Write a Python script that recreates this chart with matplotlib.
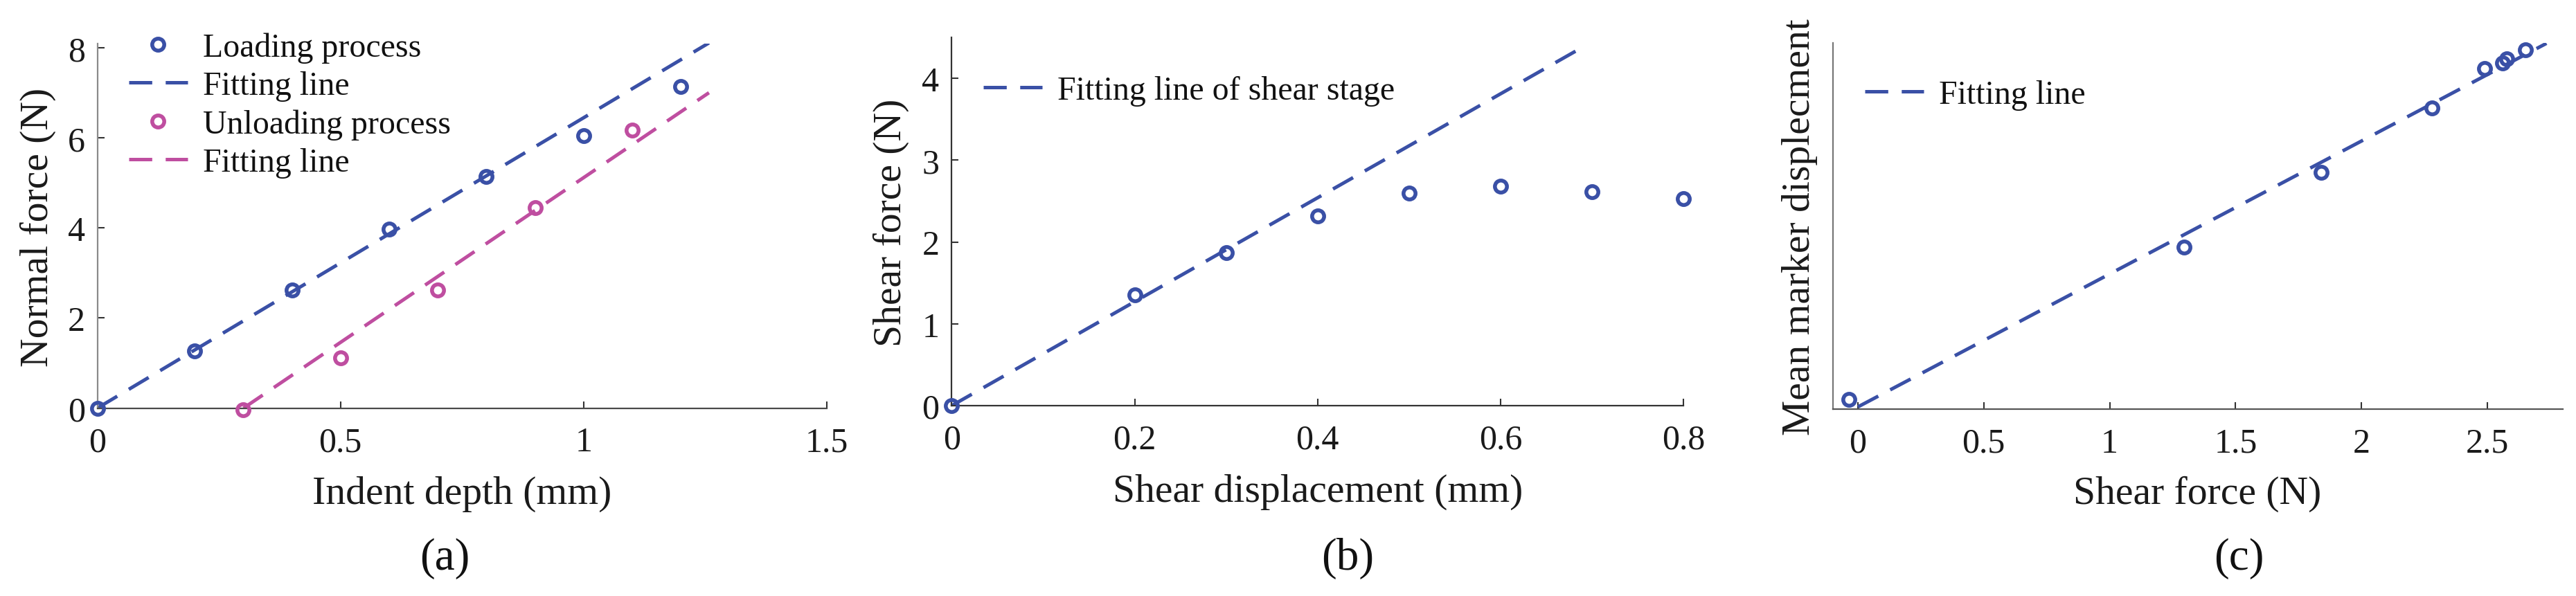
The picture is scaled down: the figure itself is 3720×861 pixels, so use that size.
import matplotlib
matplotlib.use('Agg')
import matplotlib.pyplot as plt
import numpy as np

plt.rcParams['font.family'] = ['Liberation Serif', 'DejaVu Serif']
plt.rcParams['lines.scale_dashes'] = False

# ---------------- data ----------------
# (a) normal indentation
depth_load = [0.0, 0.2, 0.4, 0.6, 0.8, 1.0, 1.2]
force_load = [0.0, 1.27, 2.62, 3.97, 5.14, 6.06, 7.15]
depth_unload = [0.3, 0.5, 0.7, 0.9, 1.1]
force_unload = [-0.04, 1.12, 2.62, 4.46, 6.18]
fit_load_coef = [6.45, 0.0]          # slope, intercept
fit_load_range = [0.0, 1.258]
fit_unload_coef = [7.32, -2.201]
fit_unload_range = [0.3007, 1.258]

# (b) shear stage
shear_disp = [0.0, 0.2, 0.3, 0.4, 0.5, 0.6, 0.7, 0.8]
shear_force = [0.0, 1.35, 1.87, 2.32, 2.60, 2.68, 2.61, 2.53]
fit_shear_coef = [6.35, 0.0]
fit_shear_range = [0.0, 0.689]

# (c) marker displacement vs shear force
c_force = [-0.037, 1.296, 1.840, 2.279, 2.489, 2.560, 2.577, 2.651]
c_disp = [0.026, 0.442, 0.647, 0.823, 0.930, 0.945, 0.957, 0.981]
fit_c_coef = [0.363, 0.006]
fit_c_range = [0.0, 2.735]

a_xticks = [0, 0.5, 1, 1.5]
a_yticks = [0, 2, 4, 6, 8]
b_xticks = [0, 0.2, 0.4, 0.6, 0.8]
b_yticks = [0, 1, 2, 3, 4]
c_xticks = [0, 0.5, 1, 1.5, 2, 2.5]

BLUE = '#3a50a6'
PINK = '#bf4ea0'

W, H = 3720, 862
fig = plt.figure(figsize=(W / 100, H / 100), dpi=100)

def px_rect(left, right, bottom, top):
    return [left / W, 1 - bottom / H, (right - left) / W, (bottom - top) / H]

ax_a = fig.add_axes(px_rect(140.7, 1193.7, 590.5, 63.9))
ax_b = fig.add_axes(px_rect(1374.4, 2431.0, 587.0, 55.0))
ax_c = fig.add_axes(px_rect(2646.6, 3701.0, 592.0, 63.0))

TICK_FS = 36
LABEL_FS = 41.5
LEG_FS = 34.5
CAP_FS = 47

mk = dict(marker='o', linestyle='none', markersize=12.5, markeredgewidth=4,
          markerfacecolor='none', clip_on=False, zorder=3)
ln = dict(linewidth=3.6, dashes=(24, 14), zorder=2)

def fitline(ax, coef, rng, color, label=None):
    xs = np.array(rng)
    return ax.plot(xs, np.polyval(coef, xs), color=color, label=label, **ln)[0]

# ---- (a)
h1 = ax_a.plot(depth_load, force_load, color=BLUE, markeredgecolor=BLUE, label='Loading process', **mk)[0]
h2 = fitline(ax_a, fit_load_coef, fit_load_range, BLUE, 'Fitting line')
h3 = ax_a.plot(depth_unload, force_unload, color=PINK, markeredgecolor=PINK, label='Unloading process', **mk)[0]
h4 = fitline(ax_a, fit_unload_coef, fit_unload_range, PINK, 'Fitting line')
ax_a.set_xlim(0, 1.5)
ax_a.set_ylim(0, 8.1)
ax_a.set_xticks(a_xticks, labels=[f'{t:g}' for t in a_xticks])
ax_a.set_yticks(a_yticks, labels=[f'{t:g}' for t in a_yticks])

# ---- (b)
ax_b.plot(shear_disp, shear_force, color=BLUE, markeredgecolor=BLUE, **mk)
hb = fitline(ax_b, fit_shear_coef, fit_shear_range, BLUE, 'Fitting line of shear stage')
ax_b.set_xlim(0, 0.8)
ax_b.set_ylim(0, 4.5)
ax_b.set_xticks(b_xticks, labels=[f'{t:g}' for t in b_xticks])
ax_b.set_yticks(b_yticks, labels=[f'{t:g}' for t in b_yticks])

# ---- (c)
ax_c.plot(c_force, c_disp, color=BLUE, markeredgecolor=BLUE, **mk)
hc = fitline(ax_c, fit_c_coef, fit_c_range, BLUE, 'Fitting line')
ax_c.set_xlim(-0.1, 2.8)
ax_c.set_ylim(0, 1.0)
ax_c.set_xticks(c_xticks, labels=[f'{t:g}' for t in c_xticks])
ax_c.set_yticks([])

spine_cols = {ax_a: ('#8a8a8a', '#4a4a4a'), ax_b: ('#333333', '#333333'), ax_c: ('#777777', '#555555')}
for ax, (lc, bc) in spine_cols.items():
    ax.spines['top'].set_visible(False)
    ax.spines['right'].set_visible(False)
    ax.spines['left'].set_color(lc)
    ax.spines['bottom'].set_color(bc)
    ax.spines['left'].set_linewidth(1.6)
    ax.spines['bottom'].set_linewidth(1.6)
    ax.tick_params(direction='in', length=7, width=1.5, color='#333333',
                   labelsize=TICK_FS, labelcolor='#1a1a1a')
    ax.tick_params(axis='x', pad=19)
    ax.tick_params(axis='y', pad=13)
    ax.patch.set_alpha(0)

# axis labels
def place_labels(ax, xl, xpos, yl, ypos):
    ax.set_xlabel(xl, fontsize=LABEL_FS, color='#1a1a1a')
    ax.xaxis.set_label_coords(xpos[0] / W, 1 - xpos[1] / H, transform=fig.transFigure)
    ax.xaxis.label.set_va('center')
    ax.set_ylabel(yl, fontsize=LABEL_FS, color='#1a1a1a')
    ax.yaxis.set_label_coords(ypos[0] / W, 1 - ypos[1] / H, transform=fig.transFigure)
    ax.yaxis.label.set_va('center')

place_labels(ax_a, 'Indent depth (mm)', (667, 714), 'Normal force (N)', (55, 328))
place_labels(ax_b, 'Shear displacement (mm)', (1903, 711), 'Shear force (N)', (1287, 322))
place_labels(ax_c, 'Shear force (N)', (3173, 714), 'Mean marker displecment', (2599, 328))

# legends
leg_kw = dict(frameon=False, fontsize=LEG_FS, handlelength=1.77, handletextpad=0.47,
              borderpad=0, borderaxespad=0, labelspacing=0.235, loc='upper left', numpoints=1)
la = ax_a.legend([h1, h2, h3, h4], [h.get_label() for h in (h1, h2, h3, h4)],
                 bbox_to_anchor=(186 / W, 1 - 47 / H), bbox_transform=fig.transFigure, **leg_kw)
lb = ax_b.legend([hb], [hb.get_label()],
                 bbox_to_anchor=(1420 / W, 1 - 110 / H), bbox_transform=fig.transFigure, **leg_kw)
lc = ax_c.legend([hc], [hc.get_label()],
                 bbox_to_anchor=(2693 / W, 1 - 116 / H), bbox_transform=fig.transFigure, **leg_kw)
for lg in (la, lb, lc):
    for txt in lg.get_texts():
        txt.set_color('#111111')

# captions
for cap, (x, y) in [('(a)', (642, 807)), ('(b)', (1946, 807)), ('(c)', (3233, 807))]:
    fig.text(x / W, 1 - y / H, cap, fontsize=CAP_FS, ha='center', va='center', color='#111111')

fig.savefig('out.png', dpi=100)
